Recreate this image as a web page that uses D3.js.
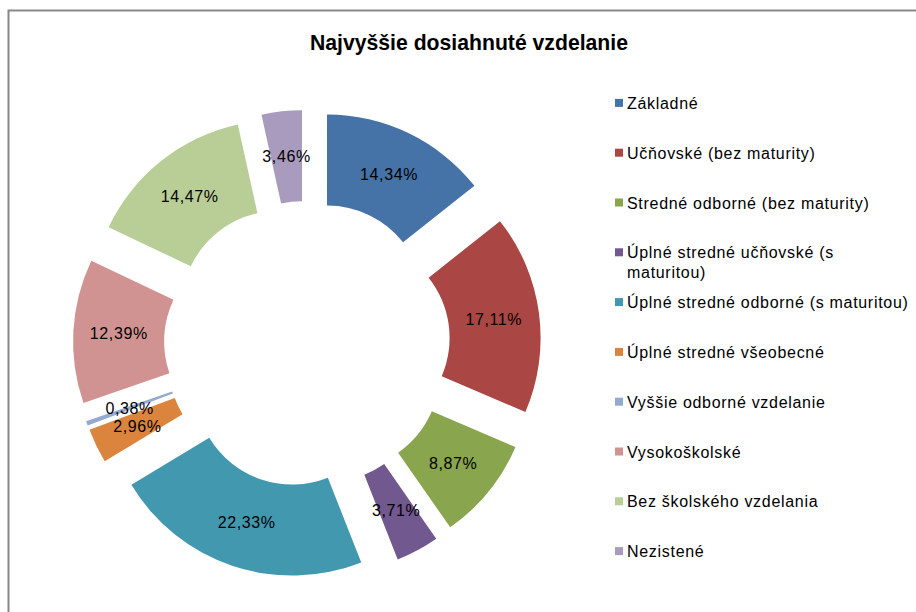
<!DOCTYPE html>
<html>
<head>
<meta charset="utf-8">
<script src="https://cdn.jsdelivr.net/npm/d3@7"></script>
<style>
  body { margin: 0; background: #fff; }
  text { font-family: "Liberation Sans", Arial, sans-serif; }
</style>
</head>
<body>
<div id="chart"></div>
<script>
// data
const categories = [
    "Základné",
    "Učňovské (bez maturity)",
    "Stredné odborné (bez maturity)",
    "Úplné stredné učňovské (s maturitou)",
    "Úplné stredné odborné (s maturitou)",
    "Úplné stredné všeobecné",
    "Vyššie odborné vzdelanie",
    "Vysokoškolské",
    "Bez školského vzdelania",
    "Nezistené"
];
const shares = [14.34, 17.11, 8.87, 3.71, 22.33, 2.96, 0.38, 12.39, 14.47, 3.46];
const colors = ["#4572A7", "#AA4643", "#89A54E", "#71588F", "#4198AF",
    "#DB843D", "#93A9CF", "#D19392", "#B9CD96", "#A99BBD"];
const title = "Najvyššie dosiahnuté vzdelanie";

const width = 916, height = 612;

const svg = d3.select("#chart")
    .append("svg")
    .attr("width", width)
    .attr("height", height);

// chart border (runs off right and bottom edge)
svg.append("rect")
    .attr("x", 8.5)
    .attr("y", 10.5)
    .attr("width", 940)
    .attr("height", 640)
    .attr("fill", "none")
    .attr("stroke", "#878787")
    .attr("stroke-width", 2);

svg.append("text")
    .attr("x", 469)
    .attr("y", 50)
    .attr("text-anchor", "middle")
    .attr("font-size", 22)
    .attr("font-weight", "bold")
    .attr("textLength", 318)
    .attr("lengthAdjust", "spacingAndGlyphs")
    .text(title);

// donut
const cx = 307, cy = 344;
const rOuter = 188, rInner = 97, explode = 46;

const data = categories.map((c, i) => ({ name: c, value: shares[i], color: colors[i] }));

const pie = d3.pie().sort(null).value(d => d.value);
const arc = d3.arc().innerRadius(rInner).outerRadius(rOuter);
const arcs = pie(data);

const g = svg.append("g").attr("transform", `translate(${cx},${cy})`);

function offset(d) {
    let a = (d.startAngle + d.endAngle) / 2;
    return [explode * Math.sin(a), -explode * Math.cos(a)];
}

g.selectAll(".slice")
    .data(arcs)
    .enter()
    .append("path")
    .attr("class", "slice")
    .attr("d", arc)
    .attr("transform", d => `translate(${offset(d)})`)
    .attr("fill", d => d.data.color);

g.selectAll(".label")
    .data(arcs)
    .enter()
    .append("text")
    .attr("class", "label")
    .attr("transform", d => {
        let c = arc.centroid(d), o = offset(d);
        return `translate(${c[0] + o[0]},${c[1] + o[1]})`;
    })
    .attr("text-anchor", "middle")
    .attr("dy", "0.35em")
    .attr("font-size", 16)
    .attr("letter-spacing", 0.6)
    .attr("fill", "#000")
    .text(d => d.data.value.toFixed(2).replace(".", ",") + "%");

// legend
const legendY = d3.scaleBand()
    .domain(categories)
    .range([78, 576]);

const legend = svg.append("g")
    .selectAll(".legend-item")
    .data(data)
    .enter()
    .append("g")
    .attr("class", "legend-item")
    .attr("transform", d => `translate(615,${legendY(d.name) + legendY.bandwidth() / 2})`);

legend.append("rect")
    .attr("x", 0)
    .attr("y", -4)
    .attr("width", 8)
    .attr("height", 8)
    .attr("fill", d => d.color);

legend.append("text")
    .attr("x", 12)
    .attr("y", 6)
    .attr("font-size", 16)
    .attr("letter-spacing", 0.7)
    .attr("fill", "#000")
    .each(function(d) {
        // wrap long names like the original legend
        let el = d3.select(this);
        let words = d.name.split(" ");
        let line = [];
        let tspan = el.append("tspan").attr("x", 12).attr("dy", 0);
        words.forEach(w => {
            line.push(w);
            tspan.text(line.join(" "));
            if (tspan.node().getComputedTextLength() > 288 && line.length > 1) {
                line.pop();
                tspan.text(line.join(" "));
                line = [w];
                tspan = el.append("tspan").attr("x", 12).attr("dy", 20).text(w);
            }
        });
    });
</script>
</body>
</html>
